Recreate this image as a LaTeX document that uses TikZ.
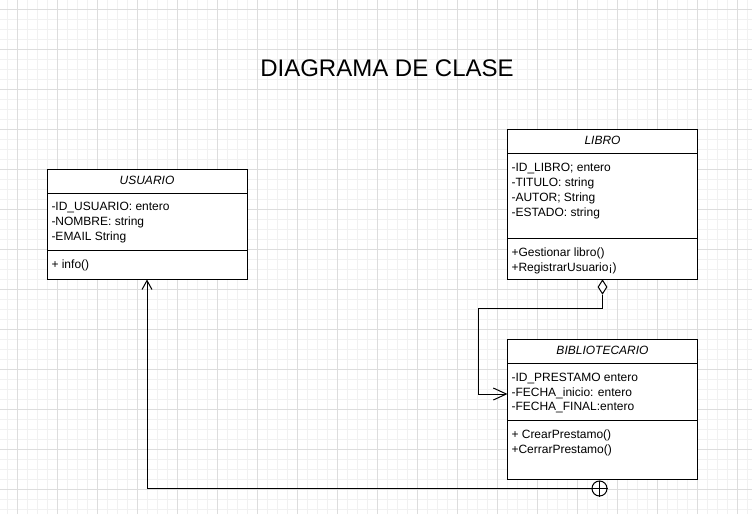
\documentclass[tikz,border=0pt]{standalone}
\usepackage{fontspec}
\setmainfont{Liberation Sans}
\usetikzlibrary{arrows.meta,shapes.geometric}
\definecolor{gridminor}{HTML}{F1F1F1}
\definecolor{gridmajor}{HTML}{DDDDDD}
\tikzset{
  classbox/.style={draw, line width=1pt, inner sep=0, minimum width=#1},
  classname/.style={anchor=base, inner sep=0, font=\fontsize{12}{14}\selectfont\itshape},
  member/.style={anchor=base west, inner sep=0, font=\fontsize{12}{14}\selectfont},
  openhead/.style={-{Straight Barb[length=13pt,width=12pt,line width=1pt]}},
  openheadsmall/.style={-{Straight Barb[length=9pt,width=10pt,line width=1pt]}},
}
\begin{document}
\begin{tikzpicture}[x=1pt,y=-1pt,line width=1pt]
  \useasboundingbox (0,0) rectangle (752,514);
  % grid
  \foreach \gx in {7,17,...,747} \draw[gridminor] (\gx,0) -- (\gx,514);
  \foreach \gy in {9,19,...,509} \draw[gridminor] (0,\gy) -- (752,\gy);
  \foreach \gx in {17,57,...,737} \draw[gridmajor] (\gx,0) -- (\gx,514);
  \foreach \gy in {9,49,...,489} \draw[gridmajor] (0,\gy) -- (752,\gy);

  \node[anchor=base, inner sep=0, font=\fontsize{24}{28}\selectfont] (titulo) at (387,76) {DIAGRAMA DE CLASE};

  % USUARIO
  \node[classbox=200pt, minimum height=110pt, fill=white] (usuario) at (147,224) {};
  \draw (47,193) -- (247,193);   % name | attributes
  \draw (47,250) -- (247,250);   % attributes | methods
  \node[classname] (usuarion) at (147,184) {USUARIO};
  \foreach \t [count=\i] in {-ID\_USUARIO: entero, -NOMBRE: string, -EMAIL String}
    \node[member] (ua\i) at (51,195.7+15*\i) {\t};
  \node[member] (um1) at (51,268) {+ info()};

  % LIBRO
  \node[classbox=190pt, minimum height=150pt, fill=white] (libro) at (602.5,204) {};
  \draw (507.5,153) -- (697.5,153);
  \draw (507.5,238) -- (697.5,238);
  \node[classname] (libron) at (602.5,144) {LIBRO};
  \foreach \t [count=\i] in {-ID\_LIBRO; entero, -TITULO: string, -AUTOR; String, -ESTADO: string}
    \node[member] (la\i) at (511,156+15*\i) {\t};
  \node[member] (lm1) at (511,256) {+Gestionar libro()};
  \node[member] (lm2) at (511,271) {+RegistrarUsuario¡)};

  % BIBLIOTECARIO
  \node[classbox=190pt, minimum height=140pt, fill=white] (biblio) at (602.5,409) {};
  \draw (507.5,363) -- (697.5,363);
  \draw (507.5,420) -- (697.5,420);
  \node[classname] (biblion) at (602.5,354) {BIBLIOTECARIO};
  \foreach \t [count=\i] in {-ID\_PRESTAMO entero, -FECHA\_inicio: entero, -FECHA\_FINAL:entero}
    \node[member] (ba\i) at (511,366.7+14.7*\i) {\t};
  \node[member] (bm1) at (511,438.3) {+ CrearPrestamo()};
  \node[member] (bm2) at (511,453.3) {+CerrarPrestamo()};

  % LIBRO <>-- BIBLIOTECARIO
  \node[diamond, draw, fill=white, inner sep=0, minimum width=9pt, minimum height=14pt] (agg) at (602.5,287) {};
  \coordinate (aggbend) at (478,308.5);
  \coordinate (biblioin) at (507.5,394);
  \draw[openhead] (agg.south) |- (aggbend) |- (biblioin);

  % BIBLIOTECARIO (+)-- USUARIO
  \node[circle, draw, fill=white, inner sep=0, minimum size=15pt] (plus) at (599.5,488.5) {};
  \draw (plus.north) -- (plus.south) (plus.west) -- (plus.east);
  \draw[openheadsmall] (plus.west) -| (usuario.south);
\end{tikzpicture}
\end{document}
